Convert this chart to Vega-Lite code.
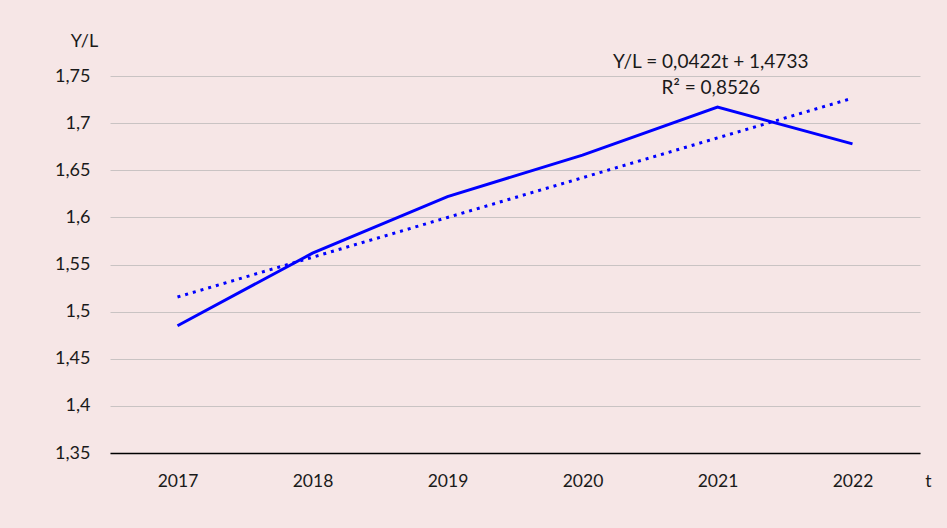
{
  "$schema": "https://vega.github.io/schema/vega-lite/v6.json",
  "width": 810,
  "height": 377,
  "autosize": {"type": "none"},
  "padding": {"left": 110, "top": 76, "right": 27, "bottom": 75},
  "background": "#f6e6e6",
  "config": {
    "view": {"stroke": null},
    "font": "Lato",
    "axis": {"labelFont": "Lato", "titleFont": "Lato", "labelColor": "#1a1a1a", "titleColor": "#1a1a1a"}
  },
  "datasets": {
    "main": [
      {"year": 2017, "yl": 1.485, "trend": 1.5155},
      {"year": 2018, "yl": 1.562, "trend": 1.5577},
      {"year": 2019, "yl": 1.622, "trend": 1.5999},
      {"year": 2020, "yl": 1.666, "trend": 1.6421},
      {"year": 2021, "yl": 1.717, "trend": 1.6843},
      {"year": 2022, "yl": 1.678, "trend": 1.7265}
    ],
    "notes": [
      {"year": 2020.95, "yl": 1.765, "label": "Y/L = 0,0422t + 1,4733"},
      {"year": 2020.95, "yl": 1.737, "label": "R² = 0,8526"}
    ]
  },
  "layer": [
    {
      "data": {"name": "main"},
      "mark": {"type": "line", "color": "#0000ff", "strokeWidth": 3, "strokeDash": [3, 5], "strokeCap": "butt"},
      "encoding": {
        "x": {
          "field": "year", "type": "quantitative",
          "scale": {"domain": [2016.5, 2022.5], "nice": false, "zero": false},
          "axis": {
            "values": [2017, 2018, 2019, 2020, 2021, 2022], "format": "d",
            "grid": false, "ticks": false, "domainColor": "#000000", "domainWidth": 1.5,
            "labelFontSize": 17.5, "labelPadding": 19,
            "title": "t", "titleFontSize": 17.5, "titleFontWeight": "normal",
            "titleX": 818, "titleY": 28, "titleAlign": "center", "titleBaseline": "middle"
          }
        },
        "y": {
          "field": "trend", "type": "quantitative",
          "scale": {"domain": [1.35, 1.75], "nice": false, "zero": false},
          "axis": {
            "values": [1.35, 1.4, 1.45, 1.5, 1.55, 1.6, 1.65, 1.7, 1.75],
            "labelExpr": "replace(format(datum.value, '.2~f'), '.', ',')",
            "domain": false, "ticks": false, "grid": true, "gridColor": "#c9c3c3", "gridWidth": 1.2,
            "labelFontSize": 18, "labelPadding": 20,
            "title": "Y/L", "titleFontSize": 18, "titleFontWeight": "normal", "titleAngle": 0,
            "titleX": -26, "titleY": -35, "titleAlign": "center", "titleBaseline": "middle"
          }
        }
      }
    },
    {
      "data": {"name": "main"},
      "mark": {"type": "line", "color": "#0000ff", "strokeWidth": 3},
      "encoding": {
        "x": {"field": "year", "type": "quantitative"},
        "y": {"field": "yl", "type": "quantitative"}
      }
    },
    {
      "data": {"name": "notes"},
      "mark": {"type": "text", "fontSize": 19, "color": "#1a1a1a", "align": "center", "baseline": "middle", "font": "Lato"},
      "encoding": {
        "x": {"field": "year", "type": "quantitative"},
        "y": {"field": "yl", "type": "quantitative"},
        "text": {"field": "label"}
      }
    }
  ]
}
